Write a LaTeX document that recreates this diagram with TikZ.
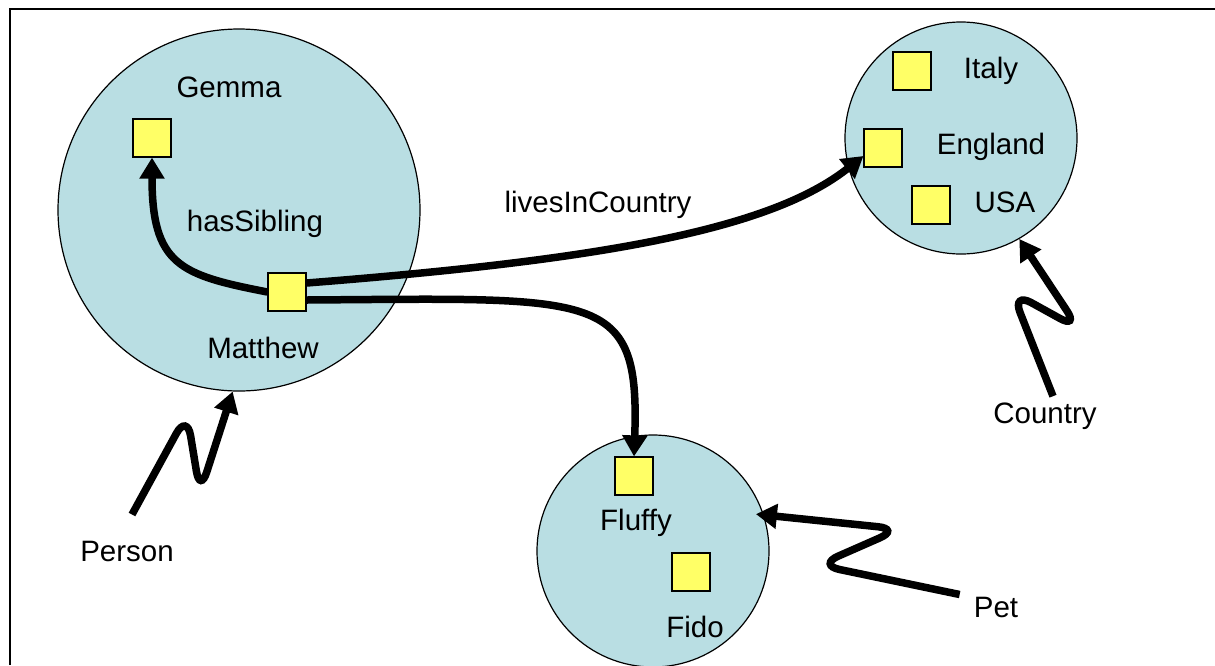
\documentclass[tikz,border=0pt]{standalone}
\usepackage{fontspec}
\setmainfont{Liberation Sans}
\usetikzlibrary{arrows.meta}

\definecolor{setblue}{RGB}{185,222,227}
\definecolor{indivyellow}{RGB}{255,255,102}

\tikzstyle{extent} = [circle, draw, fill=setblue, line width=1.2pt, inner sep=0pt]
\tikzstyle{member} = [rectangle, draw, fill=indivyellow, line width=1.2pt,
minimum size=38pt, inner sep=0pt]
\tikzstyle{lbl} = [inner sep=2pt, anchor=base]
\tikzstyle{line} = [draw, line width=7.5pt, -{Triangle[length=21pt, width=24pt]}]
\tikzstyle{squiggle} = [line, rounded corners=22pt]

\begin{document}
\begin{tikzpicture}[x=1pt, y=-1pt, font=\fontsize{29.5}{35}\selectfont]
		\useasboundingbox (0,0) rectangle (1215,665);
		\clip (0,0) rectangle (1215,665);
		\draw [line width=1.3pt] (10,665) -- (10,9) -- (1215,9);

		% the three classes
		\node [extent, minimum size=362pt] (PersonSet) at (239,210) {};
		\node [extent, minimum size=232pt] (CountrySet) at (961,138) {};
		\node [extent, minimum size=232pt] (PetSet) at (653,551) {};

		% individuals
		\node [member] (Gemma) at (152,138) {};
		\node [member] (Matthew) at (287,292) {};
		\node [member] (Italy) at (912,71) {};
		\node [member] (England) at (883,148) {};
		\node [member] (USA) at (931,205) {};
		\node [member] (Fluffy) at (634,476) {};
		\node [member] (Fido) at (691,572) {};

		\node [lbl] (GemmaLabel) at (229,97) {Gemma};
		\node [lbl] (MatthewLabel) at (263,358) {Matthew};
		\node [lbl] (ItalyLabel) at (991,78) {Italy};
		\node [lbl] (EnglandLabel) at (991,154) {England};
		\node [lbl] (USALabel) at (1005,212) {USA};
		\node [lbl] (FluffyLabel) at (636,530) {Fluffy};
		\node [lbl] (FidoLabel) at (695,637) {Fido};
		\node [lbl] (PersonLabel) at (127,561) {Person};
		\node [lbl] (CountryLabel) at (1045,423) {Country};
		\node [lbl] (PetLabel) at (996,617) {Pet};
		\node [lbl] (SiblingLabel) at (255,231) {hasSibling};
		\node [lbl] (LivesLabel) at (598,212) {livesInCountry};

		% properties
		\path [line] (Matthew.west) .. controls (180,275) and (152,265) .. (Gemma.south);
		\path [line] ([yshift=9pt]Matthew.east) .. controls (600,260) and (770,230) .. ([yshift=-8pt]England.west);
		\path [line] ([yshift=-8pt]Matthew.east) .. controls (600,298) and (640,290) .. (Fluffy.north);

		% class membership
		\path [squiggle] ([xshift=5pt, yshift=24pt]PersonLabel.north) -- (187,414) -- (200,493) -- (PersonSet.-92);
		\path [squiggle] ([xshift=8pt, yshift=4pt]CountryLabel.north) -- (1012,292) -- (1079,329) -- (CountrySet.-60);
		\path [squiggle, shorten >=-8pt] ([xshift=-12pt]PetLabel.north west) -- (818,565) -- (900,529) -- (PetSet.18);
	\end{tikzpicture}
\end{document}
